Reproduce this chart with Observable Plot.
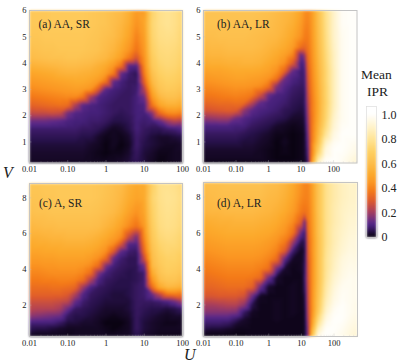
<!DOCTYPE html>
<html><head><meta charset="utf-8">
<script src="https://cdn.jsdelivr.net/npm/d3@7"></script>
<script src="https://cdn.jsdelivr.net/npm/@observablehq/plot@0.6"></script>
<style>
html,body{margin:0;padding:0;background:#fff}
#root{position:relative;width:399px;height:364px;overflow:hidden;font-family:"Liberation Serif",serif;color:#222}
#root svg{position:absolute;overflow:visible}
#root svg image{filter:blur(1.1px)}
.t{position:absolute;white-space:nowrap;line-height:1}
</style></head><body><div id="root"></div>
<script>
// log10(U) columns
const logU_SR = [-2,-1.8,-1.6,-1.4,-1.2,-1,-.8,-.6,-.4,-.2,0,.2,.4,.6,.8,1,1.2,1.4,1.6,1.8,2];
const logU_LR = [-2,-1.75,-1.5,-1.25,-1,-.75,-.5,-.25,0,.25,.5,.75,1,1.1,1.2,1.3,1.5,1.75,2,2.25,2.5,2.72];

// Mean IPR x 100, one row per V
const vA = [6,5.5,5,4.5,4.2,3.9,3.6,3.3,3,2.7,2.4,2.1,1.8,1.5,1.2,.9,.6,.2];
const iprA = [
[66,66,66,67,67,67,67,67,66,65,64,62,60,55,47,48,72,78,80,78,74],
[66,66,66,67,67,67,67,67,66,65,64,61,58,53,44,50,73,78,80,78,74],
[65,65,66,66,66,66,66,66,65,64,62,60,56,50,40,48,72,77,78,77,73],
[62,63,64,64,65,65,65,65,64,63,60,57,52,45,36,46,70,75,76,75,72],
[60,61,62,63,63,64,64,63,62,60,58,54,48,38,28,44,68,74,75,74,71],
[55,56,57,58,59,60,60,59,58,55,52,46,36,12,11,42,66,72,74,73,70],
[50,51,52,53,55,56,56,55,54,52,47,38,13,8,6,38,62,70,72,71,68],
[46,47,48,49,50,51,52,52,50,46,36,13,9,7,7,32,58,67,70,69,66],
[42,43,44,45,46,47,48,47,44,30,12,9,8,7,8,22,52,64,67,66,63],
[37,38,39,40,41,42,42,36,20,11,9,8,7,7,9,14,45,58,62,62,58],
[32,33,34,35,36,35,22,12,10,9,8,7,7,7,9,10,36,50,55,55,52],
[25,26,26,27,26,15,11,10,9,9,8,7,6,7,9,9,17,34,42,43,40],
[14,14,14,13,12,10,9,9,8,8,7,5,5,6,9,8,9,13,20,24,22],
[8,8,8,8,8,8,8,7,7,6,4,2,3,5,9,7,6,6,8,9,11],
[6,6,6,6,6,6,6,5,5,3,1,2,1,3,8,6,4,3,3,4,5],
[4,4,4,4,4,4,4,4,3,2,0,2,0,2,8,5,4,3,2,2,3],
[3,3,3,3,3,3,3,3,2,1,0,1,1,3,7,4,3,1,1,2,2],
[2,2,2,2,2,2,2,2,2,2,2,2,3,4,6,4,2,0,1,2,2]];

const vB = [6,5.5,5,4.6,4.3,4,3.7,3.4,3.1,2.8,2.5,2.2,1.9,1.6,1.3,1,.7,.4,.2];
const iprB = [
[64,64,64,64,64,64,64,63,62,60,58,56,50,44,42,45,60,78,90,99,100,100],
[63,63,63,63,63,63,63,62,61,59,57,54,47,42,40,44,59,77,90,99,100,100],
[61,61,62,62,62,62,61,60,59,58,55,51,44,39,38,43,58,76,90,98,100,100],
[58,59,59,60,60,60,60,59,57,55,52,47,35,33,36,42,57,75,89,98,100,100],
[56,57,57,58,58,58,58,57,55,52,48,40,13,18,34,41,56,74,88,98,100,100],
[53,54,54,55,55,56,56,55,52,49,43,30,9,12,32,40,55,73,88,98,100,100],
[49,50,50,51,52,52,52,51,49,44,33,13,8,9,30,39,54,72,87,98,100,100],
[45,46,47,48,49,49,48,47,44,36,14,10,8,8,28,38,53,72,87,98,100,100],
[42,42,43,44,45,45,44,42,35,16,11,8,7,7,26,37,52,71,87,98,100,100],
[38,38,39,40,41,40,38,28,14,10,9,7,6,6,24,36,51,71,87,98,100,100],
[33,34,35,35,36,35,24,13,10,9,8,6,5,6,22,35,50,70,87,98,100,100],
[28,29,30,31,30,18,12,10,9,8,6,5,4,5,20,35,50,71,88,98,100,100],
[18,19,20,20,14,11,9,8,7,6,5,3,3,4,18,34,51,72,90,98,100,100],
[10,10,10,10,9,9,7,6,5,3,2,1,2,3,16,34,53,75,92,99,100,100],
[7,7,7,7,7,6,5,4,3,1,1,0,1,2,14,34,55,80,95,100,100,100],
[5,5,5,5,5,4,4,3,2,0,2,0,1,2,12,34,59,88,98,100,99,98],
[3,3,3,3,3,3,3,2,1,0,1,0,1,2,10,34,66,94,100,100,98,96],
[2,2,2,2,2,2,2,2,1,0,0,0,1,2,8,36,78,98,100,99,96,93],
[1,1,1,1,1,1,1,1,1,1,1,1,1,2,6,40,88,100,100,98,95,92]];

const vC = [8.8,8,7.2,6.4,5.8,5.4,5,4.6,4.2,3.8,3.4,3,2.6,2.2,1.8,1.4,1,.7,.25];
const iprC = [
[65,65,66,66,66,66,66,66,66,65,64,62,60,55,52,52,70,78,79,78,75],
[64,64,65,65,66,66,66,66,66,65,63,61,58,53,50,52,72,78,80,79,76],
[62,63,63,64,64,64,64,64,64,63,61,59,55,49,44,50,70,77,79,78,75],
[58,59,60,60,61,61,61,61,61,60,57,54,49,42,36,46,68,76,78,77,74],
[55,55,56,57,57,58,58,58,57,55,52,48,42,25,15,42,66,74,76,75,72],
[52,53,53,54,54,55,55,55,54,52,48,42,28,11,10,38,64,72,74,74,71],
[50,50,51,51,52,52,52,52,51,48,43,30,12,8,7,34,62,70,73,72,70],
[47,47,48,48,49,49,49,49,47,43,33,13,8,6,6,26,60,68,71,71,68],
[44,44,45,45,46,46,46,45,42,35,16,9,7,6,6,14,58,66,70,69,66],
[41,41,42,43,43,43,43,41,35,17,9,7,6,5,6,8,52,64,68,67,64],
[38,38,39,39,40,40,39,35,22,10,7,6,5,5,6,8,44,60,64,64,60],
[35,35,35,36,36,35,33,20,10,7,6,5,5,5,7,8,34,52,58,57,54],
[32,32,32,32,32,30,22,11,7,6,5,4,4,5,7,8,13,24,36,38,36],
[27,27,27,27,26,24,13,8,6,5,4,4,4,4,7,7,7,8,10,14,20],
[24,23,23,23,21,14,7,6,5,4,3,3,3,4,7,6,5,5,4,5,7],
[18,17,16,15,14,7,5,5,4,3,2,1,2,3,7,5,4,3,2,3,3],
[9,9,9,9,7,4,4,3,3,2,0,0,0,2,7,4,3,2,1,1,2],
[6,5,5,4,3,2,2,2,2,2,1,0,1,2,7,4,3,2,2,2,2],
[2,1,1,1,1,1,2,2,2,2,2,2,2,2,5,3,2,1,1,1,1]];

const vD = [8.8,8,7.2,6.6,6,5.5,5,4.5,4,3.5,3,2.5,2,1.6,1.2,.9,.6,.25];
const iprD = [
[61,62,62,63,63,63,63,63,61,60,57,52,44,41,41,46,62,78,84,88,90,89],
[59,60,61,61,61,61,61,61,59,58,55,50,42,40,40,45,62,78,84,88,90,90],
[57,58,58,59,59,59,59,58,57,55,52,47,38,36,38,44,62,78,85,89,91,91],
[53,54,55,55,56,56,56,55,54,52,48,42,30,13,36,43,61,78,85,89,92,92],
[50,51,52,53,53,53,53,52,51,48,44,36,13,7,34,42,61,78,86,90,93,93],
[47,48,49,50,50,50,50,49,47,44,38,20,5,5,32,41,60,78,86,91,94,94],
[44,45,46,47,47,47,47,46,44,40,30,8,2,4,31,41,60,79,87,92,95,94],
[41,42,43,44,44,44,44,43,40,33,11,2,2,5,30,40,60,80,88,94,96,95],
[38,39,40,41,41,41,41,39,35,14,3,1,2,6,29,40,60,80,89,95,97,96],
[35,36,37,38,38,38,37,34,14,3,1,1,1,7,28,40,60,81,91,96,98,97],
[33,33,34,35,35,35,32,14,3,1,1,2,1,6,27,40,61,83,93,98,98,97],
[29,29,30,30,30,28,14,2,1,1,1,2,1,4,26,40,62,85,95,99,98,97],
[21,21,22,23,23,18,5,1,1,2,1,2,1,3,25,40,64,88,97,100,98,96],
[17,17,17,17,16,7,2,1,1,2,1,2,1,2,24,40,67,91,99,100,98,96],
[10,10,10,10,7,3,1,1,1,2,1,1,1,2,22,42,74,95,100,100,97,95],
[7,7,7,6,3,2,1,1,1,1,1,1,1,2,20,44,80,98,100,99,96,94],
[4,3,3,2,1,1,1,1,1,1,1,1,1,2,18,50,88,100,100,98,95,93],
[1,0,0,0,0,0,1,1,1,1,1,1,1,2,16,58,96,100,99,97,94,92]];

// tick labels
const uTicks = [0.01,0.1,1,10,100];
const uLabels = ["0.01","0.10","1","10","100"];
const uMinor = [.02,.03,.04,.05,.06,.07,.08,.09,.2,.3,.4,.5,.6,.7,.8,.9,2,3,4,5,6,7,8,9,20,30,40,50,60,70,80,90,200,300,400,500];
const vTicksAA = [1,2,3,4,5,6];
const vTicksA = [2,4,6,8];
const barTicks = [0,.2,.4,.6,.8,1];
const barLabels = ["0","0.2","0.4","0.6","0.8","1.0"];

// colour ramp of the legend
const rampValues = [0,.03,.05,.07,.09,.12,.16,.22,.3,.38,.45,.52,.6,.7,.8,.9,1];
const rampColors = ["#0a0312","#190a2c","#27114a","#37185f","#452079","#5a2888","#7d3278","#ae4058","#de5a2c","#f47a18","#fb9622","#fcaa2c","#fdbc48","#fed062","#ffe494","#fff3c9","#fffefa"];
const colorScale = {type:"linear",domain:rampValues,range:rampColors,interpolate:"rgb"};

const root = document.getElementById("root");
const base = {fontFamily:"'Liberation Serif', serif",fontSize:"9px",background:"transparent",color:"#222"};

function panel({logU,vs,ipr,x0,x1,y0,y1,uMax,vDom,vTicks,label,labX,labY}){
  const L=24, T=6, pts=[];
  vs.forEach((v,i)=>logU.forEach((l,j)=>pts.push({u:10**l,v,p:ipr[i][j]/100})));
  const w=x1-x0, h=y1-y0;
  const minor=uMinor.filter(d=>d<uMax);
  const uT=(vDom[1]-vDom[0]);
  const svg=Plot.plot({
    width:w+L+6,height:h+T+16,marginLeft:L,marginRight:6,marginTop:T,marginBottom:16,
    style:base,
    x:{type:"log",domain:[.01,uMax]},
    y:{domain:vDom},
    color:colorScale,
    marks:[
      Plot.raster(pts,{x:"u",y:"v",fill:"p",interpolate:"barycentric"}),
      Plot.frame({stroke:"#c4c4c4",strokeWidth:1}),
      Plot.ruleX(minor,{x:d=>d,y1:vDom[0],y2:vDom[0]+uT*.008,stroke:"#bbb",strokeOpacity:.35,strokeWidth:.6}),
      Plot.ruleX(uTicks,{x:d=>d,y1:vDom[0],y2:vDom[0]+uT*.016,stroke:"#bbb",strokeOpacity:.5,strokeWidth:.7}),
      Plot.ruleY(vTicks,{y:d=>d,x1:.01,x2:.01*10**(Math.log10(uMax/.01)*.016),stroke:"#bbb",strokeOpacity:.5,strokeWidth:.7}),
      Plot.axisX(uTicks,{tickSize:0,tickPadding:3,tickFormat:d=>uLabels[uTicks.indexOf(d)],fontSize:8.5,label:null}),
      Plot.axisY(vTicks,{tickSize:0,tickPadding:3,tickFormat:d=>d,fontSize:8.5,label:null}),
      Plot.text([label],{text:d=>d,frameAnchor:"top-left",dx:labX,dy:labY,textAnchor:"start",lineAnchor:"middle",fontSize:11.5,fill:"#222"})
    ]
  });
  svg.style.left=(x0-L)+"px"; svg.style.top=(y0-T)+"px";
  root.appendChild(svg);
}
panel({logU:logU_SR,vs:vA,ipr:iprA,x0:28.5,x1:181.5,y0:9.5,y1:162,uMax:100,vDom:[.2,6],vTicks:vTicksAA,label:"(a) AA, SR",labX:9,labY:14});
panel({logU:logU_LR,vs:vB,ipr:iprB,x0:203,x1:356.5,y0:9.5,y1:162,uMax:525,vDom:[.2,6],vTicks:vTicksAA,label:"(b) AA, LR",labX:13.5,labY:14});
panel({logU:logU_SR,vs:vC,ipr:iprC,x0:28.5,x1:181.5,y0:183,y1:336,uMax:100,vDom:[.25,8.8],vTicks:vTicksA,label:"(c) A, SR",labX:9.5,labY:20});
panel({logU:logU_LR,vs:vD,ipr:iprD,x0:202.5,x1:356.5,y0:182,y1:336,uMax:525,vDom:[.25,8.8],vTicks:vTicksA,label:"(d) A, LR",labX:13.5,labY:21});

// colour bar
const bar=Plot.plot({
  width:34,height:135,marginLeft:1,marginRight:23,marginTop:2,marginBottom:2,
  style:{...base,fontSize:"12px"},
  x:{domain:[0,1],axis:null},
  y:{domain:[0,1.07]},
  color:colorScale,
  marks:[
    Plot.raster({x1:0,x2:1,y1:0,y2:1.07,fill:(x,y)=>y}),
    Plot.frame({stroke:"#ddd",strokeWidth:.7}),
    Plot.axisY(barTicks,{anchor:"right",tickSize:0,tickPadding:5,tickFormat:d=>barLabels[barTicks.indexOf(d)],fontSize:12,label:null})
  ]
});
bar.style.left="364.5px"; bar.style.top="104px";
root.appendChild(bar);

function addText(s,x,y,size,extra){
  const e=document.createElement("div");
  e.className="t"; e.textContent=s;
  e.style.cssText=`left:${x}px;top:${y}px;font-size:${size}px;${extra||""}`;
  root.appendChild(e);
}
addText("Mean",361,68,13.5);
addText("IPR",367,85,13.5);
addText("V",3,165,16,"font-style:italic");
addText("U",184,347,16,"font-style:italic");
</script></body></html>
